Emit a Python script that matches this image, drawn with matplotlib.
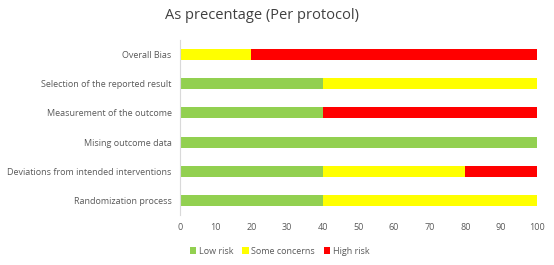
import matplotlib
matplotlib.use("Agg")
import matplotlib.pyplot as plt
import numpy as np

categories = ["Randomization process", "Deviations from intended interventions",
              "Mising outcome data", "Measurement of the outcome",
              "Selection of the reported result", "Overall Bias"]
low_risk = [40, 40, 100, 40, 40, 0]
some_concerns = [60, 40, 0, 0, 60, 20]
high_risk = [0, 20, 0, 60, 0, 80]
series_names = ["Low risk", "Some concerns", "High risk"]
colors = ["#92D050", "#FFFF00", "#FF0000"]

plt.rcParams["font.family"] = ["Open Sans", "DejaVu Sans"]

fig = plt.figure(figsize=(5.54, 2.65), dpi=100)
ax = fig.add_axes([0.325, 0.189, 0.644, 0.66])

y = np.arange(len(categories))
left = np.zeros(len(categories))
for vals, name, c in zip([low_risk, some_concerns, high_risk], series_names, colors):
    ax.barh(y, vals, left=left, height=0.38, color=c, label=name)
    left += np.array(vals)

ax.set_xlim(0, 100)
ax.set_ylim(-0.5, len(categories) - 0.5)
ax.set_xticks(range(0, 101, 10))
ax.set_yticks(y)
ax.set_yticklabels(categories)
ax.tick_params(axis="both", length=0, labelsize=6.5, colors="#595959", pad=6)
ax.tick_params(axis="y", pad=6)
for s in ["top", "right", "bottom"]:
    ax.spines[s].set_visible(False)
ax.spines["left"].set_color("#D9D9D9")

fig.text(0.473, 0.94, "As precentage (Per protocol)", ha="center", va="center",
         fontsize=10.5, color="#404040")

handles, labels = ax.get_legend_handles_labels()
fig.legend(handles, labels, loc="center", bbox_to_anchor=(0.505, 0.052), ncol=3,
           frameon=False, fontsize=6.5, labelcolor="#595959", handlelength=0.7,
           handleheight=0.7, handletextpad=0.3, columnspacing=1.0)

fig.savefig("out.png", dpi=100)
